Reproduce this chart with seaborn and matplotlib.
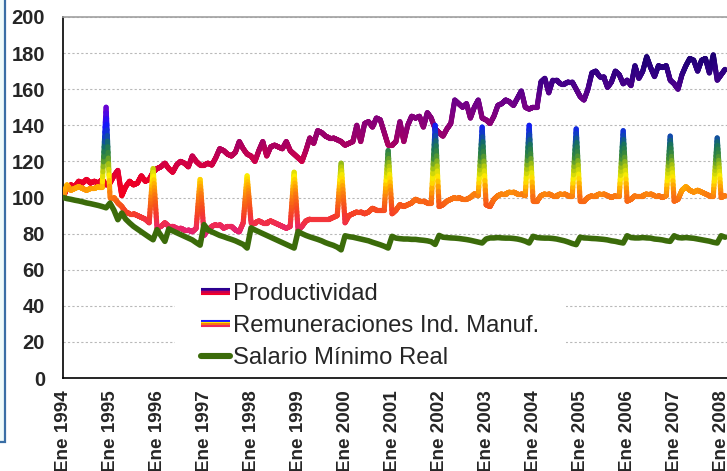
import numpy as np
import pandas as pd
import matplotlib
matplotlib.use("Agg")
import matplotlib.pyplot as plt
import seaborn as sns
from matplotlib.collections import LineCollection
from matplotlib.colors import LinearSegmentedColormap, Normalize
from matplotlib.legend_handler import HandlerBase
from matplotlib.lines import Line2D
from matplotlib.patches import Rectangle

# monthly index numbers, Jan 1994 = 100 (Ene 1994 .. Feb 2008)
productividad = [
    100, 105, 107, 106, 109, 108, 110, 108, 109, 108, 110, 107,   # 1994
    108, 112, 115, 101, 106, 109, 107, 108, 112, 109, 110, 114,   # 1995
    116, 117, 119, 116, 114, 118, 120, 119, 117, 123, 120, 118,   # 1996
    118, 119, 118, 122, 127, 126, 124, 123, 125, 131, 127, 124,   # 1997
    123, 120, 126, 131, 123, 128, 129, 128, 127, 131, 126, 124,   # 1998
    122, 120, 126, 133, 130, 137, 136, 134, 133, 133, 132, 131,   # 1999
    129, 130, 131, 140, 131, 141, 142, 139, 144, 143, 136, 129,   # 2000
    129, 131, 142, 131, 140, 145, 144, 145, 139, 147, 144, 138,   # 2001
    136, 134, 138, 141, 154, 152, 150, 152, 144, 150, 154, 144,   # 2002
    143, 141, 145, 151, 152, 154, 153, 151, 155, 159, 150, 149,   # 2003
    150, 150, 164, 166, 158, 165, 165, 163, 163, 164, 164, 160,   # 2004
    156, 154, 160, 169, 170, 167, 167, 161, 164, 170, 168, 163,   # 2005
    165, 162, 173, 166, 170, 178, 172, 167, 173, 172, 173, 165,   # 2006
    163, 160, 168, 173, 177, 176, 170, 176, 177, 169, 179, 165,   # 2007
    168, 171,                                                     # 2008
]
remuneraciones = [
    100, 107, 104, 105, 106, 105, 104, 105, 105, 106, 106, 150,
    100, 100, 97, 95, 92, 91, 91, 90, 89, 88, 86, 116,
    83, 84, 86, 84, 84, 83, 83, 82, 82, 81, 83, 110,
    79, 82, 84, 85, 85, 83, 84, 84, 82, 81, 86, 112,
    86, 86, 87, 86, 86, 87, 86, 85, 84, 83, 84, 114,
    82, 84, 87, 88, 88, 88, 88, 88, 88, 89, 90, 119,
    86, 90, 91, 92, 92, 91, 92, 94, 93, 93, 93, 126,
    91, 93, 96, 95, 96, 97, 99, 98, 98, 97, 97, 140,
    95, 96, 98, 99, 100, 100, 99, 99, 100, 102, 101, 139,
    96, 95, 99, 101, 102, 102, 103, 103, 102, 102, 101, 140,
    98, 98, 101, 102, 102, 101, 101, 102, 102, 101, 101, 138,
    98, 98, 100, 101, 101, 102, 102, 101, 100, 101, 101, 137,
    98, 99, 101, 101, 101, 102, 102, 101, 101, 100, 101, 134,
    98, 99, 104, 106, 104, 103, 104, 103, 102, 101, 101, 133,
    100, 101,
]
salario_minimo = [
    100, 99.4, 99.0, 98.5, 98.1, 97.6, 97.0, 96.6, 96.1, 95.6, 95.0, 94.3,
    96.9, 93.0, 87.7, 91.4, 88.0, 85.9, 84.0, 82.5, 81.0, 79.5, 78.0, 76.6,
    82.2, 79.0, 75.7, 82.6, 81.5, 80.5, 79.5, 78.5, 77.5, 76.5, 75.0, 73.6,
    85.0, 82.0, 81.0, 80.0, 79.0, 78.3, 77.5, 76.8, 76.0, 75.0, 74.0, 72.0,
    83.2, 82.0, 81.0, 80.0, 79.0, 78.0, 77.0, 76.0, 75.0, 74.0, 73.0, 72.0,
    81.2, 80.0, 79.0, 78.2, 77.5, 76.8, 76.0, 75.0, 74.2, 73.5, 72.5, 71.0,
    78.8, 78.3, 78.0, 77.5, 77.0, 76.5, 76.0, 75.2, 74.5, 73.8, 73.0, 72.0,
    78.5, 77.5, 77.2, 77.0, 77.0, 76.8, 76.8, 76.5, 76.3, 76.0, 75.5, 74.0,
    79.0, 78.0, 77.8, 77.6, 77.5, 77.3, 77.0, 76.7, 76.3, 75.8, 75.3, 74.8,
    77.0, 77.6, 77.6, 77.8, 77.6, 77.5, 77.5, 77.3, 77.0, 76.5, 75.8, 74.8,
    78.5, 77.8, 77.6, 77.5, 77.5, 77.3, 77.0, 76.5, 76.0, 75.3, 74.5, 73.9,
    78.0, 77.6, 77.5, 77.3, 77.2, 77.0, 76.8, 76.5, 76.0, 75.7, 75.2, 74.8,
    78.8, 77.8, 77.6, 77.6, 77.8, 77.6, 77.5, 77.0, 76.8, 76.5, 76.0, 75.7,
    78.8, 77.8, 77.6, 77.8, 77.6, 77.4, 77.0, 76.6, 76.2, 75.8, 75.2, 74.8,
    78.8, 78.0,
]
years = list(range(1994, 2009))
tick_labels = [f"Ene {y}" for y in years]
series_names = ["Productividad", "Remuneraciones Ind. Manuf.", "Salario Mínimo Real"]

df = pd.DataFrame({
    "mes": np.arange(len(productividad)),
    "prod": productividad,
    "rem": remuneraciones,
    "sal": salario_minimo,
})


def value_cmap(anchors, vmin, vmax):
    stops = [((v - vmin) / (vmax - vmin), c) for v, c in anchors]
    return LinearSegmentedColormap.from_list("grad", stops)


prod_cmap = value_cmap([(100, "#f5001a"), (112, "#e8002e"), (122, "#c8004e"),
                        (132, "#9e0068"), (142, "#8a0078"), (152, "#720088"),
                        (162, "#4a008a"), (172, "#2a0080"), (180, "#1a0070")], 100, 180)
rem_cmap = value_cmap([(78, "#d8168a"), (84, "#ee2a5a"), (90, "#f53a2c"),
                       (96, "#f75a18"), (101, "#fa7a10"), (106, "#ffaa00"),
                       (111, "#ffee00"), (117, "#a8c410"), (123, "#3a8a3a"),
                       (129, "#157060"), (134, "#1040c0"), (140, "#1414ff"),
                       (146, "#5008e0"), (151, "#7a00c8")], 78, 151)


def gradient_line(ax, x, y, cmap, vmin, vmax, lw, z):
    # split every month step so the colour follows the value along steep spikes
    x = np.asarray(x, float)
    y = np.asarray(y, float)
    t = np.linspace(0, 1, 16, endpoint=False)
    xs = np.concatenate([x[i] + t * (x[i + 1] - x[i]) for i in range(len(x) - 1)] + [x[-1:]])
    ys = np.concatenate([y[i] + t * (y[i + 1] - y[i]) for i in range(len(y) - 1)] + [y[-1:]])
    pts = np.column_stack([xs, ys])
    segs = np.stack([pts[:-1], pts[1:]], axis=1)
    lc = LineCollection(segs, cmap=cmap, norm=Normalize(vmin, vmax),
                        linewidths=lw, capstyle="round", joinstyle="round", zorder=z)
    lc.set_array((ys[:-1] + ys[1:]) / 2)
    ax.add_collection(lc)


class StackHandler(HandlerBase):
    def __init__(self, colors, thick=4.4):
        super().__init__()
        self.colors = colors
        self.thick = thick

    def create_artists(self, legend, orig_handle, xdescent, ydescent,
                       width, height, fontsize, trans):
        n = len(self.colors)
        step = self.thick / n
        arts = []
        for i, c in enumerate(self.colors):
            yy = height / 2 - ydescent + (n / 2 - i - 0.5) * step
            ln = Line2D([-xdescent, width - xdescent], [yy, yy], color=c,
                        lw=step + 0.4, solid_capstyle="butt", transform=trans)
            arts.append(ln)
        return arts


sns.set_theme(style="white")
plt.rcParams["font.family"] = ["Liberation Sans", "DejaVu Sans"]

fig = plt.figure(figsize=(7.27, 4.71), dpi=100)
ax = fig.add_axes([63 / 727, 93 / 471, 664 / 727, 361 / 471])

# light frame on the left edge of the picture
fig.patches.append(Rectangle((-0.01, 29 / 471), 0.01 + 5 / 727, 1.0, transform=fig.transFigure,
                             facecolor="#effbfb", edgecolor="#3a6ea5", lw=1.6, zorder=0))

gradient_line(ax, df["mes"], df["prod"], prod_cmap, 100, 180, 3.7, 3)
gradient_line(ax, df["mes"], df["rem"], rem_cmap, 78, 151, 3.7, 4)
sns.lineplot(data=df, x="mes", y="sal", ax=ax, color="#3b6b0a", lw=4.0, zorder=5)

ax.set_xlim(0, 169.5)
ax.set_ylim(0, 200)
ax.set_yticks(np.arange(0, 201, 20))
ax.set_xticks(np.arange(0, 12 * len(years), 12))
ax.set_xticklabels(tick_labels, rotation=90, fontweight="bold", fontsize=13.6)
for lab in ax.get_yticklabels():
    lab.set_fontweight("bold")
    lab.set_fontsize(14.5)
ax.set_xlabel("")
ax.set_ylabel("")

ax.set_axisbelow(True)
ax.yaxis.grid(True, color="#b8b8b8", linestyle=(0, (2, 2)), lw=0.8)
ax.xaxis.grid(False)
ax.tick_params(axis="x", direction="out", length=5, width=1, color="black", pad=4)
ax.tick_params(axis="y", direction="out", length=5, width=1, color="black", pad=8)
for side in ["left", "bottom"]:
    ax.spines[side].set_color("black")
    ax.spines[side].set_linewidth(1.2)
ax.spines["top"].set_color("#a0a0a0")
ax.spines["top"].set_linewidth(1.2)
ax.spines["right"].set_visible(False)

# white legend area hiding the grid
ax.add_patch(Rectangle((112 / 664, 3 / 361), 391 / 664, 95 / 361, transform=ax.transAxes,
                       facecolor="white", edgecolor="none", zorder=1))

h_prod = Line2D([], [], color="#5a0090")
h_rem = Line2D([], [], color="#ffee00")
h_sal = Line2D([], [], color="#3b6b0a", lw=4.4)
ax.legend([h_prod, h_rem, h_sal], series_names,
          handler_map={h_prod: StackHandler(["#2a0090", "#5a0090", "#c8004e", "#f0002a"]),
                       h_rem: StackHandler(["#1a1aff", "#ffee00", "#fa7a10", "#ee2a5a"])},
          loc="center left", bbox_to_anchor=(116 / 664, 52 / 361), frameon=False,
          fontsize=17.2, handlelength=1.25, handletextpad=0.12, labelspacing=0.42,
          borderpad=0.4)

fig.savefig("out.png", dpi=100)
